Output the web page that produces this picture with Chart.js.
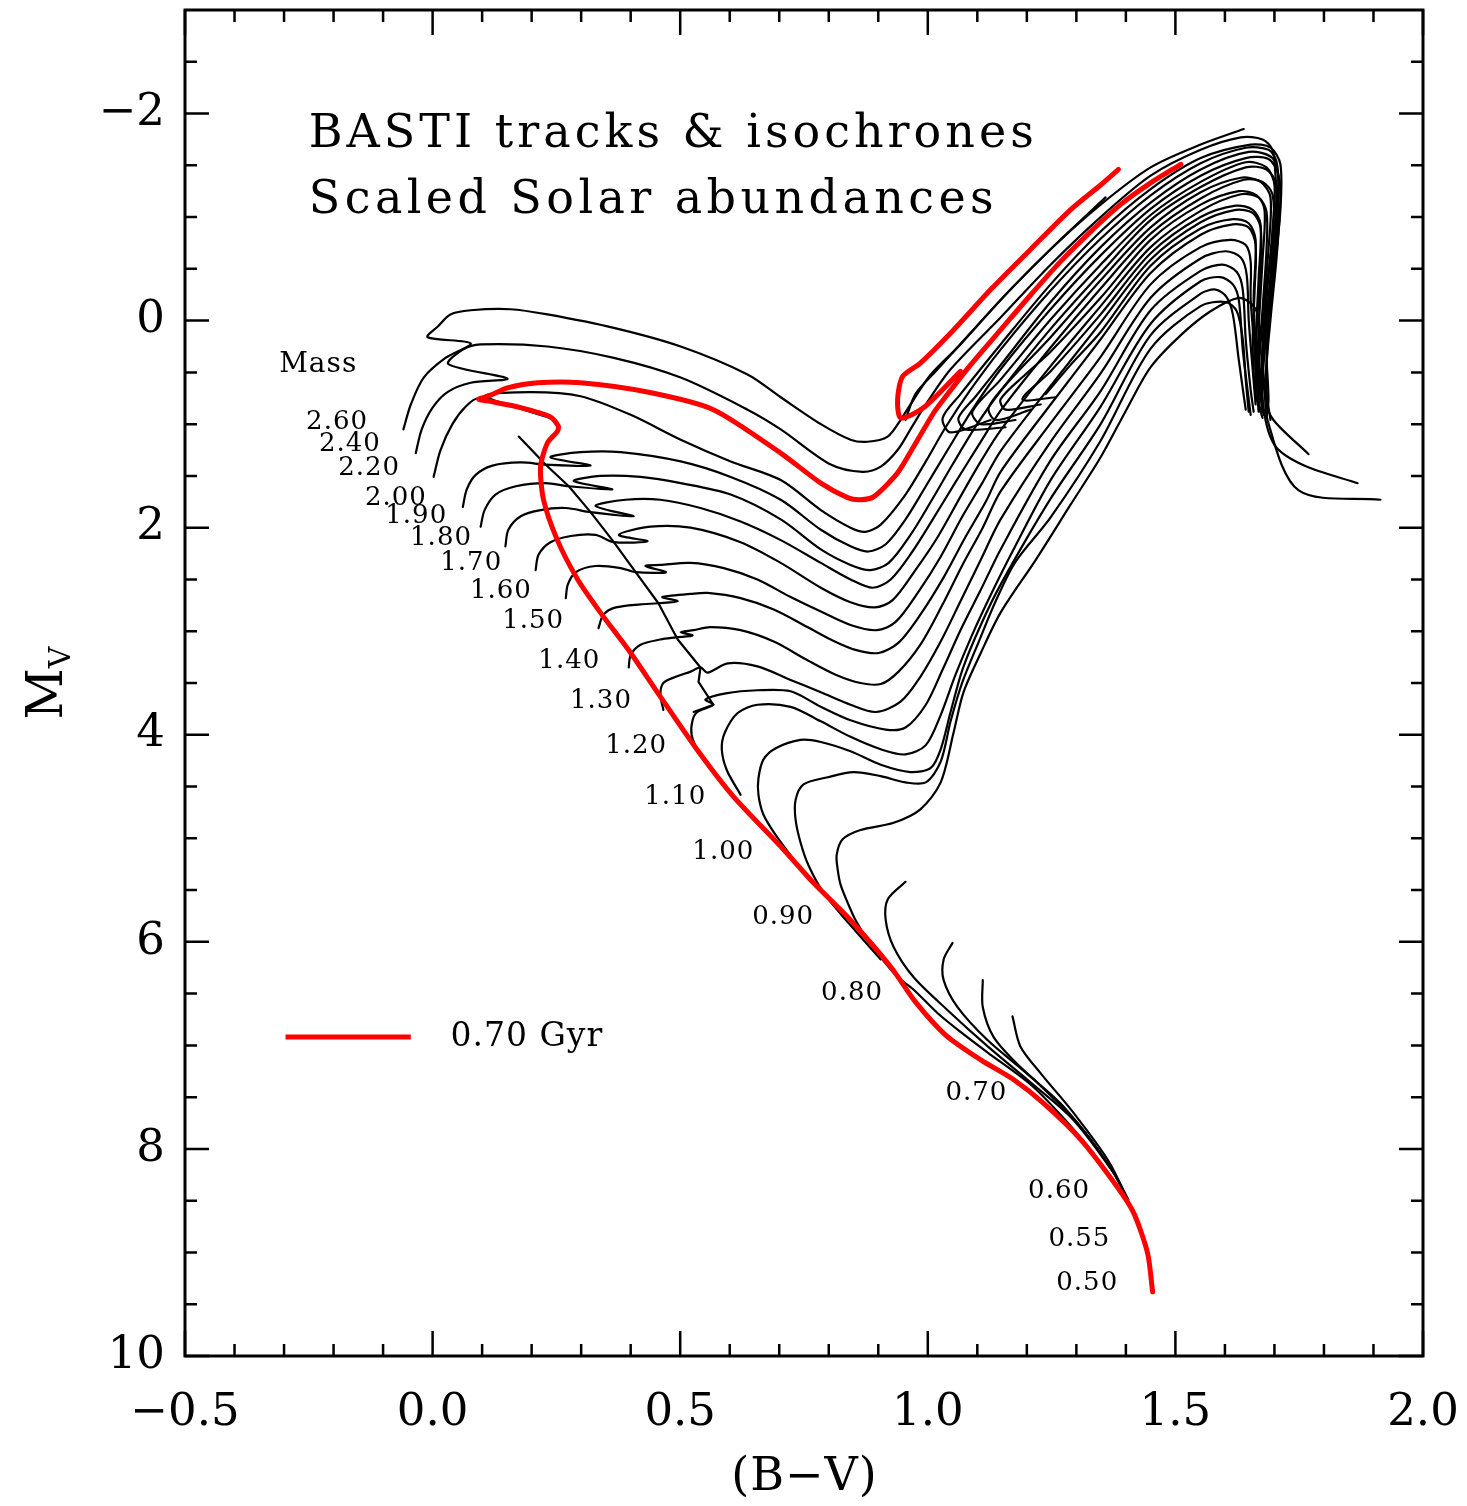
<!DOCTYPE html>
<html lang="en">
<head>
<meta charset="UTF-8">
<title>BASTI tracks & isochrones</title>
<script src="https://cdn.jsdelivr.net/npm/chart.js"></script>
<style>
    body { margin: 0; background: #fff; }
    #caja { width: 1467px; height: 1506px; }
</style>
</head>
<body>
<div id="caja"><canvas id="cmd"></canvas></div>
<script>
// tick labels
const xTicks = [-0.5, 0, 0.5, 1, 1.5, 2];
const yTicks = [-2, 0, 2, 4, 6, 8, 10];

// evolutionary tracks, points are [B-V, Mv]
const track260 = [[-0.059,1.05],[-0.044,0.81],[-0.018,0.55],[0.026,0.36],[0.077,0.22],[-0.010,0.16],[0.010,0.06],[0.036,-0.06],[0.077,-0.10],[0.157,-0.11],[0.232,-0.06],[0.366,0.07],[0.501,0.25],[0.636,0.52],[0.703,0.74],[0.784,1.00],[0.844,1.15],[0.878,1.17],[0.919,1.12],[0.945,0.96],[0.965,0.81],[1.006,0.52],[1.066,0.23],[1.147,-0.20],[1.248,-0.69],[1.349,-1.12],[1.450,-1.48],[1.551,-1.70],[1.638,-1.85]];
const track240 = [[-0.034,1.28],[-0.022,1.05],[0.000,0.84],[0.030,0.69],[0.077,0.60],[0.151,0.56],[0.032,0.42],[0.061,0.28],[0.097,0.23],[0.232,0.25],[0.366,0.36],[0.501,0.55],[0.636,0.86],[0.703,1.05],[0.804,1.39],[0.868,1.46],[0.905,1.41],[0.939,1.25],[0.965,1.05],[0.996,0.81],[1.046,0.47],[1.147,-0.03],[1.248,-0.54],[1.349,-1.00],[1.450,-1.40],[1.551,-1.65],[1.632,-1.77],[1.676,-1.75],[1.696,-1.65],[1.702,-1.41],[1.704,-1.17],[1.696,-0.69],[1.688,-0.20],[1.676,0.28],[1.672,0.67],[1.678,0.91]];
const track220 = [[0.002,1.51],[0.016,1.25],[0.040,1.00],[0.067,0.83],[0.093,0.75],[0.238,0.94],[0.107,0.73],[0.198,0.69],[0.299,0.73],[0.400,0.91],[0.501,1.15],[0.602,1.36],[0.703,1.54],[0.784,1.83],[0.844,2.00],[0.874,2.04],[0.905,1.97],[0.955,1.68],[0.996,1.36],[1.036,1.03],[1.086,0.67],[1.147,0.28],[1.248,-0.29],[1.349,-0.79],[1.450,-1.21],[1.551,-1.52],[1.642,-1.67],[1.688,-1.65],[1.704,-1.54],[1.708,-1.27],[1.702,-0.78],[1.692,-0.20],[1.684,0.28],[1.688,0.76],[1.684,0.94]];
const track200 = [[0.061,1.80],[0.069,1.63],[0.087,1.49],[0.121,1.40],[0.178,1.37],[0.228,1.39],[0.319,1.40],[0.238,1.32],[0.299,1.27],[0.380,1.27],[0.501,1.36],[0.602,1.51],[0.703,1.73],[0.784,2.02],[0.844,2.18],[0.880,2.23],[0.915,2.16],[0.955,1.92],[0.996,1.60],[1.040,1.25],[1.090,0.86],[1.147,0.47],[1.248,-0.11],[1.349,-0.63],[1.450,-1.08],[1.551,-1.40],[1.642,-1.57],[1.688,-1.56],[1.708,-1.41],[1.712,-1.17],[1.704,-0.59],[1.692,-0.01],[1.682,0.57],[1.686,0.96],[1.749,1.64],[1.914,1.73]];
const track190 = [[0.097,1.99],[0.105,1.83],[0.127,1.68],[0.168,1.60],[0.228,1.57],[0.275,1.60],[0.363,1.63],[0.285,1.55],[0.339,1.50],[0.420,1.51],[0.501,1.57],[0.602,1.68],[0.703,1.92],[0.784,2.21],[0.844,2.36],[0.884,2.41],[0.921,2.34],[0.965,2.07],[1.006,1.75],[1.050,1.39],[1.097,1.02],[1.147,0.68],[1.248,0.08],[1.349,-0.46],[1.450,-0.97],[1.551,-1.29],[1.642,-1.48],[1.684,-1.46],[1.704,-1.31],[1.704,-0.98],[1.692,-0.40],[1.680,0.18],[1.676,0.76],[1.700,1.20],[1.760,1.40],[1.868,1.57]];
const track180 = [[0.147,2.18],[0.153,2.02],[0.178,1.89],[0.218,1.83],[0.269,1.81],[0.319,1.85],[0.406,1.89],[0.329,1.79],[0.390,1.73],[0.460,1.73],[0.541,1.81],[0.622,1.94],[0.703,2.12],[0.784,2.34],[0.844,2.50],[0.889,2.58],[0.925,2.50],[0.969,2.23],[1.010,1.92],[1.056,1.56],[1.103,1.20],[1.147,0.87],[1.248,0.26],[1.349,-0.31],[1.450,-0.84],[1.551,-1.18],[1.638,-1.36],[1.676,-1.34],[1.696,-1.22],[1.698,-0.88],[1.684,-0.30],[1.676,0.28],[1.682,0.76],[1.698,0.96],[1.769,1.29]];
const track170 = [[0.208,2.41],[0.214,2.26],[0.238,2.14],[0.279,2.08],[0.329,2.07],[0.366,2.14],[0.434,2.13],[0.376,2.07],[0.440,1.99],[0.521,2.00],[0.622,2.14],[0.703,2.34],[0.784,2.58],[0.844,2.72],[0.893,2.77],[0.929,2.70],[0.975,2.41],[1.020,2.09],[1.066,1.70],[1.107,1.36],[1.147,1.06],[1.248,0.44],[1.349,-0.14],[1.450,-0.71],[1.551,-1.06],[1.632,-1.22],[1.668,-1.19],[1.684,-1.05],[1.684,-0.69],[1.676,-0.11],[1.668,0.47],[1.676,0.86]];
const track160 = [[0.269,2.68],[0.273,2.55],[0.289,2.43],[0.329,2.37],[0.380,2.39],[0.410,2.43],[0.471,2.43],[0.430,2.37],[0.460,2.36],[0.521,2.34],[0.588,2.39],[0.656,2.50],[0.723,2.67],[0.784,2.81],[0.844,2.94],[0.897,2.99],[0.935,2.91],[0.981,2.62],[1.026,2.28],[1.070,1.89],[1.111,1.56],[1.147,1.26],[1.248,0.63],[1.349,0.02],[1.450,-0.59],[1.551,-0.95],[1.622,-1.07],[1.656,-1.04],[1.672,-0.90],[1.672,-0.49],[1.664,0.09],[1.662,0.57],[1.672,0.88]];
const track150 = [[0.335,2.97],[0.345,2.84],[0.370,2.77],[0.420,2.74],[0.456,2.73],[0.495,2.71],[0.464,2.67],[0.521,2.64],[0.555,2.63],[0.622,2.68],[0.689,2.79],[0.757,2.96],[0.804,3.08],[0.854,3.18],[0.901,3.21],[0.941,3.11],[0.985,2.84],[1.032,2.48],[1.076,2.09],[1.117,1.75],[1.147,1.46],[1.248,0.81],[1.349,0.18],[1.450,-0.46],[1.551,-0.83],[1.616,-0.93],[1.648,-0.90],[1.662,-0.73],[1.660,-0.30],[1.656,0.23],[1.662,0.71],[1.676,0.94]];
const track140 = [[0.396,3.35],[0.400,3.23],[0.420,3.13],[0.460,3.08],[0.491,3.06],[0.525,3.04],[0.501,3.01],[0.527,2.99],[0.561,2.96],[0.622,2.99],[0.689,3.10],[0.757,3.28],[0.814,3.42],[0.864,3.50],[0.905,3.51],[0.941,3.39],[0.985,3.13],[1.030,2.74],[1.070,2.36],[1.111,2.00],[1.147,1.65],[1.248,0.99],[1.349,0.35],[1.450,-0.35],[1.551,-0.71],[1.611,-0.78],[1.642,-0.73],[1.652,-0.57],[1.652,-0.20],[1.662,0.38],[1.668,0.86]];
const track130 = [[0.466,3.76],[0.460,3.61],[0.466,3.50],[0.491,3.44],[0.521,3.39],[0.541,3.35],[0.555,3.40],[0.596,3.31],[0.656,3.34],[0.723,3.47],[0.784,3.59],[0.844,3.71],[0.895,3.78],[0.945,3.68],[0.985,3.44],[1.026,3.10],[1.066,2.71],[1.107,2.31],[1.147,1.92],[1.248,1.17],[1.349,0.51],[1.450,-0.22],[1.551,-0.60],[1.601,-0.67],[1.632,-0.61],[1.644,-0.44],[1.648,-0.01],[1.656,0.47],[1.662,0.81]];
const track120 = [[0.535,4.16],[0.523,4.00],[0.525,3.86],[0.535,3.78],[0.567,3.71],[0.551,3.66],[0.592,3.60],[0.656,3.57],[0.723,3.58],[0.784,3.73],[0.844,3.86],[0.915,3.95],[0.955,3.93],[0.996,3.71],[1.030,3.37],[1.066,2.99],[1.107,2.60],[1.147,2.21],[1.248,1.35],[1.349,0.68],[1.450,-0.10],[1.551,-0.48],[1.595,-0.54],[1.624,-0.47],[1.636,-0.30],[1.642,0.18],[1.652,0.67],[1.658,0.88]];
const track110 = [[0.622,4.58],[0.594,4.34],[0.584,4.14],[0.590,3.98],[0.616,3.79],[0.656,3.71],[0.723,3.73],[0.784,3.87],[0.844,4.02],[0.905,4.14],[0.955,4.19],[0.996,4.10],[1.026,3.81],[1.056,3.42],[1.090,3.03],[1.127,2.65],[1.171,2.23],[1.248,1.54],[1.349,0.83],[1.450,0.03],[1.551,-0.38],[1.591,-0.42],[1.616,-0.35],[1.628,-0.20],[1.636,0.28],[1.648,0.76],[1.652,0.91]];
const track100 = [[0.733,5.23],[0.693,4.97],[0.668,4.77],[0.658,4.58],[0.658,4.42],[0.668,4.24],[0.693,4.13],[0.743,4.05],[0.784,4.07],[0.844,4.16],[0.905,4.29],[0.965,4.36],[1.006,4.32],[1.026,4.14],[1.046,3.78],[1.070,3.37],[1.107,2.94],[1.147,2.55],[1.248,1.72],[1.349,1.00],[1.450,0.14],[1.551,-0.26],[1.581,-0.30],[1.603,-0.23],[1.616,-0.06],[1.628,0.38],[1.642,0.86]];
const track090 = [[0.905,6.17],[0.844,5.84],[0.790,5.53],[0.759,5.26],[0.743,5.04],[0.733,4.82],[0.733,4.63],[0.749,4.48],[0.798,4.41],[0.850,4.36],[0.905,4.40],[0.955,4.46],[0.996,4.46],[1.026,4.26],[1.046,3.87],[1.070,3.49],[1.103,3.10],[1.137,2.71],[1.177,2.33],[1.248,1.90],[1.349,1.16],[1.450,0.27],[1.551,-0.14],[1.601,-0.18],[1.624,-0.09],[1.636,0.18],[1.642,0.57],[1.648,0.88]];
const track080 = [[1.383,8.37],[1.329,8.01],[1.268,7.67],[1.208,7.38],[1.121,7.07],[1.066,6.87],[1.020,6.69],[0.971,6.46],[0.939,6.34],[0.905,6.15],[0.878,5.98],[0.854,5.79],[0.838,5.62],[0.824,5.45],[0.818,5.30],[0.816,5.16],[0.828,5.01],[0.864,4.92],[0.931,4.85],[0.985,4.72],[1.026,4.46],[1.052,3.98],[1.072,3.59],[1.107,3.21],[1.147,2.82],[1.218,2.31],[1.288,1.78],[1.349,1.32],[1.399,0.88],[1.450,0.45],[1.511,0.14],[1.571,-0.09],[1.628,-0.22],[1.656,-0.15],[1.668,-0.01],[1.668,0.38],[1.668,0.88]];
const track070 = [[1.399,8.44],[1.375,8.23],[1.294,7.72],[1.208,7.36],[1.121,7.01],[1.040,6.66],[0.971,6.34],[0.931,6.05],[0.915,5.79],[0.919,5.59],[0.955,5.42]];
const track060 = [[1.405,8.49],[1.375,8.23],[1.309,7.79],[1.214,7.33],[1.121,6.95],[1.060,6.63],[1.032,6.37],[1.032,6.17],[1.050,6.01]];
const track055 = [[1.416,8.62],[1.369,8.18],[1.274,7.59],[1.187,7.21],[1.133,6.92],[1.111,6.63],[1.111,6.37]];
const track050 = [[1.430,8.78],[1.369,8.15],[1.294,7.65],[1.228,7.27],[1.187,7.01],[1.171,6.72]];

// core He burning + AGB branches
const agb0 = [[0.955,0.96],[0.975,0.71],[1.016,0.49],[1.086,0.12],[1.167,-0.30],[1.248,-0.69],[1.359,-1.19]];
const agb1 = [[1.127,0.96],[1.046,1.08],[1.030,0.94],[1.066,0.71],[1.147,0.23],[1.248,-0.35],[1.349,-0.86],[1.450,-1.27],[1.551,-1.57],[1.652,-1.70],[1.692,-1.67],[1.712,-1.51],[1.712,-1.07],[1.700,-0.49],[1.688,0.09],[1.684,0.67],[1.692,0.96]];
const agb2 = [[1.157,1.03],[1.076,1.05],[1.062,0.94],[1.097,0.73],[1.147,0.43],[1.248,-0.18],[1.349,-0.71],[1.450,-1.14],[1.551,-1.46],[1.648,-1.63],[1.696,-1.57],[1.708,-1.36],[1.704,-0.78],[1.688,-0.11],[1.676,0.57],[1.676,0.88]];
const agb3 = [[1.177,0.96],[1.107,1.00],[1.090,0.88],[1.147,0.57],[1.248,-0.01],[1.349,-0.54],[1.450,-1.02],[1.551,-1.34],[1.642,-1.53],[1.684,-1.48],[1.700,-1.31],[1.696,-0.88],[1.684,-0.20],[1.676,0.38],[1.684,0.81]];
const agb4 = [[1.208,0.86],[1.137,0.96],[1.123,0.84],[1.167,0.57],[1.248,0.16],[1.349,-0.39],[1.450,-0.90],[1.551,-1.24],[1.632,-1.38],[1.672,-1.34],[1.692,-1.19],[1.688,-0.69],[1.676,-0.01],[1.668,0.57],[1.676,0.86]];
const agb5 = [[1.228,0.81],[1.157,0.86],[1.147,0.76],[1.197,0.52],[1.248,0.30],[1.349,-0.22],[1.450,-0.78],[1.551,-1.12],[1.628,-1.25],[1.664,-1.21],[1.680,-1.07],[1.676,-0.59],[1.668,0.09],[1.664,0.67]];
const agb6 = [[1.258,0.74],[1.191,0.76],[1.248,0.49],[1.349,-0.06],[1.450,-0.65],[1.551,-1.00],[1.622,-1.11],[1.656,-1.07],[1.672,-0.93],[1.668,-0.40],[1.662,0.28],[1.668,0.76]];
const agb7 = [[1.238,0.71],[1.288,0.43],[1.349,0.11],[1.450,-0.53],[1.551,-0.89],[1.616,-0.98],[1.648,-0.94],[1.662,-0.78],[1.658,-0.20],[1.662,0.47]];

// line through the main sequence hooks
const hookLine = [[0.174,1.12],[0.228,1.39],[0.275,1.60],[0.319,1.85],[0.366,2.14],[0.410,2.43],[0.456,2.73],[0.495,3.08],[0.541,3.35],[0.537,3.49],[0.567,3.71],[0.527,3.78]];

// 0.70 Gyr isochrone: MS to RGB tip, then He burning + AGB
const iso070 = [[1.454,9.38],[1.444,9.01],[1.416,8.62],[1.383,8.37],[1.309,7.91],[1.234,7.56],[1.173,7.33],[1.107,7.14],[1.036,6.90],[0.975,6.58],[0.925,6.24],[0.838,5.76],[0.769,5.43],[0.709,5.11],[0.608,4.60],[0.535,4.15],[0.454,3.59],[0.400,3.21],[0.339,2.82],[0.293,2.50],[0.252,2.12],[0.224,1.73],[0.218,1.41],[0.232,1.18],[0.252,1.07],[0.254,1.02],[0.238,0.93],[0.178,0.84],[0.117,0.78],[0.093,0.76],[0.117,0.72],[0.151,0.65],[0.212,0.60],[0.299,0.60],[0.434,0.69],[0.567,0.86],[0.703,1.28],[0.784,1.57],[0.838,1.71],[0.864,1.73],[0.891,1.70],[0.939,1.47],[0.971,1.22],[1.012,0.89],[1.032,0.76],[1.086,0.43],[1.147,0.09],[1.208,-0.25],[1.268,-0.57],[1.329,-0.86],[1.389,-1.12],[1.450,-1.33],[1.511,-1.51]];
const iso070He = [[1.066,0.49],[0.992,0.84],[0.945,0.94],[0.939,0.76],[0.949,0.54],[0.985,0.41],[1.052,0.09],[1.127,-0.30],[1.208,-0.69],[1.288,-1.07],[1.349,-1.31],[1.385,-1.46]];

const massLabels = ['2.60','2.40','2.20','2.00','1.90','1.80','1.70','1.60','1.50','1.40','1.30','1.20','1.10','1.00','0.90','0.80','0.70','0.60','0.55','0.50'];
const massLabelAt = [[-0.194,0.98],[-0.168,1.19],[-0.129,1.43],[-0.075,1.72],[-0.034,1.89],[0.016,2.10],[0.077,2.34],[0.137,2.61],[0.202,2.90],[0.275,3.29],[0.339,3.68],[0.410,4.11],[0.489,4.60],[0.586,5.13],[0.707,5.76],[0.846,6.50],[1.097,7.46],[1.264,8.41],[1.305,8.87],[1.321,9.30]];
const massHeadAt = [-0.232, 0.43];

const titleLines = ['BASTI tracks & isochrones', 'Scaled Solar abundances'];
const titleLeft = -0.25;
const titleRight = [1.214, 1.133];
const titleBase = [-1.68, -1.04];

const legendText = '0.70 Gyr';
const legendLine = [[-0.297, 6.92], [-0.044, 6.92]];
const legendTextAt = [0.036, 6.92];

const SERIF = '"DejaVu Serif", "Liberation Serif", serif';

function toXY(arr) {
    return arr.map(p => ({ x: p[0], y: p[1] }));
}

function minus(s) {
    return s.replace('-', '\u2212');
}

function drawSpaced(ctx, text, x, y, gap, align) {
    const chars = [...text];
    const widths = chars.map(c => ctx.measureText(c).width);
    const total = widths.reduce((a, b) => a + b, 0) + gap * (chars.length - 1);
    let cx = align === 'center' ? x - total / 2 : x;
    ctx.textAlign = 'left';
    chars.forEach((c, i) => {
        ctx.fillText(c, cx, y);
        cx += widths[i] + gap;
    });
}

function drawFitted(ctx, text, x, y, width) {
    const chars = [...text];
    const natural = chars.reduce((s, c) => s + ctx.measureText(c).width, 0);
    drawSpaced(ctx, text, x, y, (width - natural) / (chars.length - 1), 'left');
}

// frame, inward ticks, annotations
const decor = {
    id: 'decor',
    afterDatasetsDraw(chart) {
        const { ctx, chartArea: a, scales: { x, y } } = chart;
        ctx.save();
        ctx.strokeStyle = '#000';
        ctx.lineWidth = 3;
        ctx.strokeRect(a.left, a.top, a.right - a.left, a.bottom - a.top);

        ctx.lineWidth = 2.5;
        ctx.beginPath();
        for (let i = -5; i <= 20; i++) {
            const px = x.getPixelForValue(i / 10);
            const len = i % 5 === 0 ? 25 : 12;
            ctx.moveTo(px, a.bottom); ctx.lineTo(px, a.bottom - len);
            ctx.moveTo(px, a.top); ctx.lineTo(px, a.top + len);
        }
        for (let i = -5; i <= 20; i++) {
            const py = y.getPixelForValue(i / 2);
            const len = i % 4 === 0 ? 24 : 12;
            ctx.moveTo(a.left, py); ctx.lineTo(a.left + len, py);
            ctx.moveTo(a.right, py); ctx.lineTo(a.right - len, py);
        }
        ctx.stroke();

        ctx.fillStyle = '#000';
        ctx.textBaseline = 'alphabetic';
        ctx.font = '46px ' + SERIF;
        const tl = x.getPixelForValue(titleLeft);
        titleLines.forEach((t, i) => {
            drawFitted(ctx, t, tl, y.getPixelForValue(titleBase[i]), x.getPixelForValue(titleRight[i]) - tl);
        });

        ctx.textBaseline = 'middle';
        ctx.font = '28px ' + SERIF;
        drawSpaced(ctx, 'Mass', x.getPixelForValue(massHeadAt[0]), y.getPixelForValue(massHeadAt[1]), 1, 'center');
        ctx.font = '26px ' + SERIF;
        massLabels.forEach((m, i) => {
            drawSpaced(ctx, m, x.getPixelForValue(massLabelAt[i][0]), y.getPixelForValue(massLabelAt[i][1]), 1, 'center');
        });

        // legend
        ctx.strokeStyle = '#ff0000';
        ctx.lineWidth = 5;
        ctx.beginPath();
        ctx.moveTo(x.getPixelForValue(legendLine[0][0]), y.getPixelForValue(legendLine[0][1]));
        ctx.lineTo(x.getPixelForValue(legendLine[1][0]), y.getPixelForValue(legendLine[1][1]));
        ctx.stroke();
        ctx.font = '33px ' + SERIF;
        drawSpaced(ctx, legendText, x.getPixelForValue(legendTextAt[0]), y.getPixelForValue(legendTextAt[1]), 1, 'left');

        // axis titles
        ctx.textBaseline = 'alphabetic';
        ctx.font = '46px ' + SERIF;
        drawSpaced(ctx, '(B\u2212V)', (a.left + a.right) / 2, 1490, 1, 'center');

        ctx.translate(62, (a.top + a.bottom) / 2);
        ctx.rotate(-Math.PI / 2);
        ctx.font = '50px ' + SERIF;
        const mW = ctx.measureText('M').width;
        ctx.font = '30px ' + SERIF;
        const vW = ctx.measureText('V').width;
        const start = -(mW + vW) / 2;
        ctx.textAlign = 'left';
        ctx.font = '50px ' + SERIF;
        ctx.fillText('M', start, 0);
        ctx.font = '30px ' + SERIF;
        ctx.fillText('V', start + mW, 8);
        ctx.restore();
    }
};

const blackTracks = [track260, track240, track220, track200, track190, track180, track170, track160,
    track150, track140, track130, track120, track110, track100, track090, track080,
    track070, track060, track055, track050];
const heTracks = [agb0, agb1, agb2, agb3, agb4, agb5, agb6, agb7];

const lineBase = { showLine: true, pointRadius: 0, fill: false, borderCapStyle: 'round', borderJoinStyle: 'round' };
const datasets = [];

datasets.push(Object.assign({ data: toXY(iso070), borderColor: '#ff0000', borderWidth: 5, tension: 0.25, order: -1 }, lineBase));
datasets.push(Object.assign({ data: toXY(iso070He), borderColor: '#ff0000', borderWidth: 5, tension: 0.25, order: -1 }, lineBase));
blackTracks.forEach(t => {
    datasets.push(Object.assign({ data: toXY(t), borderColor: '#000', borderWidth: 2.2, tension: 0.3 }, lineBase));
});
heTracks.forEach(t => {
    datasets.push(Object.assign({ data: toXY(t), borderColor: '#000', borderWidth: 2.2, tension: 0.3 }, lineBase));
});
datasets.push(Object.assign({ data: toXY(hookLine), borderColor: '#000', borderWidth: 2.2, tension: 0 }, lineBase));

new Chart(document.getElementById('cmd'), {
    type: 'scatter',
    data: { datasets: datasets },
    options: {
        responsive: true,
        maintainAspectRatio: false,
        animation: false,
        events: [],
        layout: { padding: { top: 10, right: 44, bottom: 0, left: 0 } },
        plugins: { legend: { display: false }, tooltip: { enabled: false } },
        scales: {
            x: {
                type: 'linear',
                min: -0.5,
                max: 2.0,
                grid: { display: false, drawTicks: false },
                border: { display: false },
                afterBuildTicks: s => { s.ticks = xTicks.map(v => ({ value: v })); },
                afterFit: s => { s.height = 150; s.paddingLeft = 0; s.paddingRight = 0; },
                ticks: {
                    color: '#000',
                    font: { family: SERIF, size: 45 },
                    padding: 30,
                    maxRotation: 0,
                    callback: v => minus(Number(v).toFixed(1))
                }
            },
            y: {
                type: 'linear',
                reverse: true,
                min: -3,
                max: 10,
                grid: { display: false, drawTicks: false },
                border: { display: false },
                afterBuildTicks: s => { s.ticks = yTicks.map(v => ({ value: v })); },
                afterFit: s => { s.width = 185; s.paddingTop = 0; s.paddingBottom = 0; },
                ticks: {
                    color: '#000',
                    font: { family: SERIF, size: 45 },
                    padding: 20,
                    callback: v => minus(String(v))
                }
            }
        }
    },
    plugins: [decor]
});
</script>
</body>
</html>
